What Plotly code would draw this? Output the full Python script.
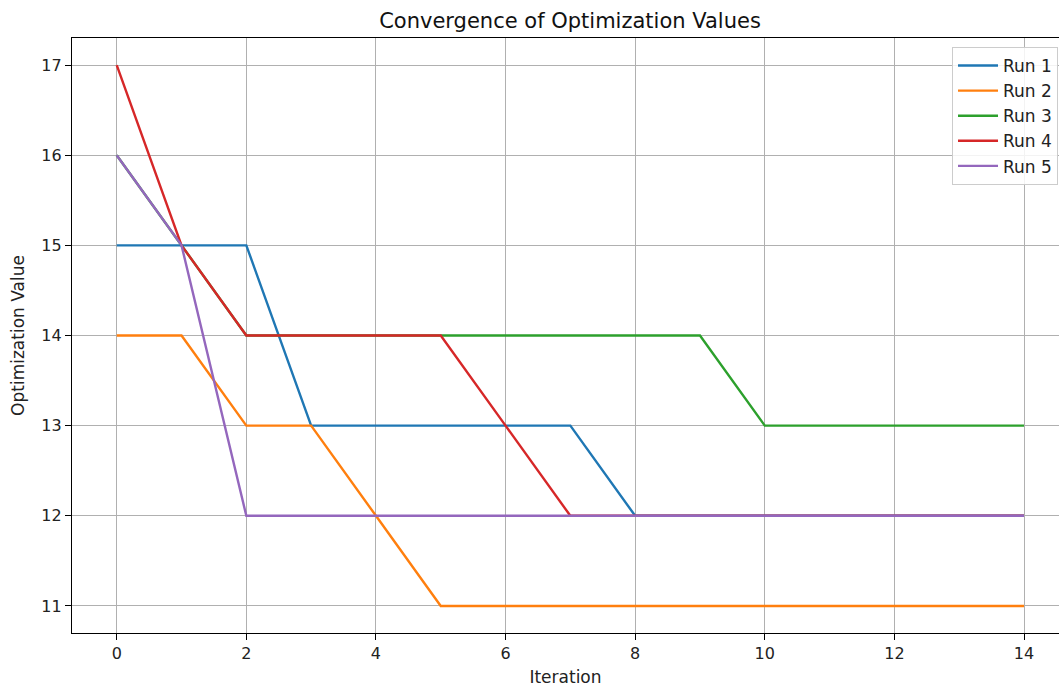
import plotly.graph_objects as go

iterations = list(range(15))
run_names = ["Run 1", "Run 2", "Run 3", "Run 4", "Run 5"]
run_1 = [15, 15, 15, 13, 13, 13, 13, 13, 12, 12, 12, 12, 12, 12, 12]
run_2 = [14, 14, 13, 13, 12, 11, 11, 11, 11, 11, 11, 11, 11, 11, 11]
run_3 = [16, 15, 14, 14, 14, 14, 14, 14, 14, 14, 13, 13, 13, 13, 13]
run_4 = [17, 15, 14, 14, 14, 14, 13, 12, 12, 12, 12, 12, 12, 12, 12]
run_5 = [16, 15, 12, 12, 12, 12, 12, 12, 12, 12, 12, 12, 12, 12, 12]
x_ticks = [0, 2, 4, 6, 8, 10, 12, 14]
y_ticks = [11, 12, 13, 14, 15, 16, 17]

colors = ["#1f77b4", "#ff7f0e", "#2ca02c", "#d62728", "#9467bd"]
runs = [run_1, run_2, run_3, run_4, run_5]

fig = go.Figure()
for name, values, color in zip(run_names, runs, colors):
    fig.add_trace(go.Scatter(
        x=iterations, y=values, mode="lines", name=name,
        line=dict(color=color, width=2.4),
    ))

font = "DejaVu Sans, sans-serif"
fig.update_layout(
    width=1059, height=689,
    margin=dict(l=72, r=0, t=38, b=56),
    paper_bgcolor="white", plot_bgcolor="white",
    font=dict(family=font, size=16, color="#222"),
    title=dict(text="Convergence of Optimization Values", x=570 / 1059,
               xanchor="center", xref="container", y=1 - 21 / 689, yanchor="middle",
               font=dict(size=21, family=font, color="#111")),
    legend=dict(x=0.999, y=0.985, xanchor="right", yanchor="top",
                bgcolor="rgba(255,255,255,0.85)", bordercolor="#cccccc", borderwidth=1,
                font=dict(size=17, family=font, color="#222"),
                itemwidth=40),
    showlegend=True,
)
fig.update_xaxes(
    range=[-0.69, 14.54], tickvals=x_ticks, ticktext=[str(v) for v in x_ticks],
    showgrid=True, gridcolor="#b0b0b0", gridwidth=1.3,
    showline=True, linecolor="black", linewidth=1.4, mirror=True,
    ticks="outside", ticklen=6, tickcolor="black", tickwidth=1.3,
    zeroline=False,
    title=dict(text="Iteration", font=dict(size=17, family=font, color="#222"), standoff=8),
    tickfont=dict(size=16, family=font, color="#222"),
)
fig.update_yaxes(
    range=[10.7, 17.3], tickvals=y_ticks, ticktext=[str(v) for v in y_ticks],
    showgrid=True, gridcolor="#b0b0b0", gridwidth=1.3,
    showline=True, linecolor="black", linewidth=1.4, mirror=False,
    ticks="outside", ticklen=6, tickcolor="black", tickwidth=1.3,
    zeroline=False,
    title=dict(text="Optimization Value", font=dict(size=17, family=font, color="#222"), standoff=12),
    tickfont=dict(size=16, family=font, color="#222"),
)

fig.write_html("out.html")
